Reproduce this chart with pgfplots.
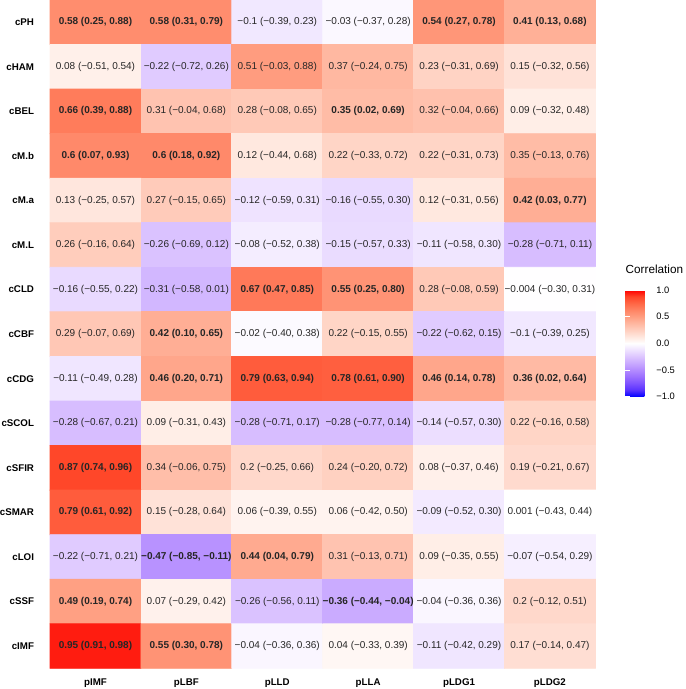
\documentclass[border=0pt]{standalone}
\usepackage{fontspec}
\setmainfont{Liberation Sans}
\usepackage{pgfplots}
\usepackage{pgfplotstable}
\pgfplotsset{compat=1.18}
\protected\def\B#1{{\bfseries #1}}

\pgfplotstableread[col sep=semicolon]{
x;y;c;lab
0;0;0.58;\B{0.58 (0.25, 0.88)}
1;0;0.58;\B{0.58 (0.31, 0.79)}
2;0;-0.1;−0.1 (−0.39, 0.23)
3;0;-0.03;−0.03 (−0.37, 0.28)
4;0;0.54;\B{0.54 (0.27, 0.78)}
5;0;0.41;\B{0.41 (0.13, 0.68)}
0;1;0.08;0.08 (−0.51, 0.54)
1;1;-0.22;−0.22 (−0.72, 0.26)
2;1;0.51;0.51 (−0.03, 0.88)
3;1;0.37;0.37 (−0.24, 0.75)
4;1;0.23;0.23 (−0.31, 0.69)
5;1;0.15;0.15 (−0.32, 0.56)
0;2;0.66;\B{0.66 (0.39, 0.88)}
1;2;0.31;0.31 (−0.04, 0.68)
2;2;0.28;0.28 (−0.08, 0.65)
3;2;0.35;\B{0.35 (0.02, 0.69)}
4;2;0.32;0.32 (−0.04, 0.66)
5;2;0.09;0.09 (−0.32, 0.48)
0;3;0.6;\B{0.6 (0.07, 0.93)}
1;3;0.6;\B{0.6 (0.18, 0.92)}
2;3;0.12;0.12 (−0.44, 0.68)
3;3;0.22;0.22 (−0.33, 0.72)
4;3;0.22;0.22 (−0.31, 0.73)
5;3;0.35;0.35 (−0.13, 0.76)
0;4;0.13;0.13 (−0.25, 0.57)
1;4;0.27;0.27 (−0.15, 0.65)
2;4;-0.12;−0.12 (−0.59, 0.31)
3;4;-0.16;−0.16 (−0.55, 0.30)
4;4;0.12;0.12 (−0.31, 0.56)
5;4;0.42;\B{0.42 (0.03, 0.77)}
0;5;0.26;0.26 (−0.16, 0.64)
1;5;-0.26;−0.26 (−0.69, 0.12)
2;5;-0.08;−0.08 (−0.52, 0.38)
3;5;-0.15;−0.15 (−0.57, 0.33)
4;5;-0.11;−0.11 (−0.58, 0.30)
5;5;-0.28;−0.28 (−0.71, 0.11)
0;6;-0.16;−0.16 (−0.55, 0.22)
1;6;-0.31;−0.31 (−0.58, 0.01)
2;6;0.67;\B{0.67 (0.47, 0.85)}
3;6;0.55;\B{0.55 (0.25, 0.80)}
4;6;0.28;0.28 (−0.08, 0.59)
5;6;-0.004;−0.004 (−0.30, 0.31)
0;7;0.29;0.29 (−0.07, 0.69)
1;7;0.42;\B{0.42 (0.10, 0.65)}
2;7;-0.02;−0.02 (−0.40, 0.38)
3;7;0.22;0.22 (−0.15, 0.55)
4;7;-0.22;−0.22 (−0.62, 0.15)
5;7;-0.1;−0.1 (−0.39, 0.25)
0;8;-0.11;−0.11 (−0.49, 0.28)
1;8;0.46;\B{0.46 (0.20, 0.71)}
2;8;0.79;\B{0.79 (0.63, 0.94)}
3;8;0.78;\B{0.78 (0.61, 0.90)}
4;8;0.46;\B{0.46 (0.14, 0.78)}
5;8;0.36;\B{0.36 (0.02, 0.64)}
0;9;-0.28;−0.28 (−0.67, 0.21)
1;9;0.09;0.09 (−0.31, 0.43)
2;9;-0.28;−0.28 (−0.71, 0.17)
3;9;-0.28;−0.28 (−0.77, 0.14)
4;9;-0.14;−0.14 (−0.57, 0.30)
5;9;0.22;0.22 (−0.16, 0.58)
0;10;0.87;\B{0.87 (0.74, 0.96)}
1;10;0.34;0.34 (−0.06, 0.75)
2;10;0.2;0.2 (−0.25, 0.66)
3;10;0.24;0.24 (−0.20, 0.72)
4;10;0.08;0.08 (−0.37, 0.46)
5;10;0.19;0.19 (−0.21, 0.67)
0;11;0.79;\B{0.79 (0.61, 0.92)}
1;11;0.15;0.15 (−0.28, 0.64)
2;11;0.06;0.06 (−0.39, 0.55)
3;11;0.06;0.06 (−0.42, 0.50)
4;11;-0.09;−0.09 (−0.52, 0.30)
5;11;0.001;0.001 (−0.43, 0.44)
0;12;-0.22;−0.22 (−0.71, 0.21)
1;12;-0.47;\B{−0.47 (−0.85, −0.11)}
2;12;0.44;\B{0.44 (0.04, 0.79)}
3;12;0.31;0.31 (−0.13, 0.71)
4;12;0.09;0.09 (−0.35, 0.55)
5;12;-0.07;−0.07 (−0.54, 0.29)
0;13;0.49;\B{0.49 (0.19, 0.74)}
1;13;0.07;0.07 (−0.29, 0.42)
2;13;-0.26;−0.26 (−0.56, 0.11)
3;13;-0.36;\B{−0.36 (−0.44, −0.04)}
4;13;-0.04;−0.04 (−0.36, 0.36)
5;13;0.2;0.2 (−0.12, 0.51)
0;14;0.95;\B{0.95 (0.91, 0.98)}
1;14;0.55;\B{0.55 (0.30, 0.78)}
2;14;-0.04;−0.04 (−0.36, 0.36)
3;14;0.04;0.04 (−0.33, 0.39)
4;14;-0.11;−0.11 (−0.42, 0.29)
5;14;0.17;0.17 (−0.14, 0.47)
}\corrtab

\begin{document}
\begin{tikzpicture}
\useasboundingbox (-37.5pt,-15.5pt) rectangle (476.25pt,501.2pt);
\begin{axis}[
  scale only axis, width=409pt, height=501.2pt,
  xmin=-0.5, xmax=5.5, ymin=-0.5, ymax=14.5,
  clip=false,
  xtick={0,...,5}, xticklabels={pIMF,pLBF,pLLD,pLLA,pLDG1,pLDG2},
  ytick={0,...,14},
  yticklabels={cPH,cHAM,cBEL,cM.b,cM.a,cM.L,cCLD,cCBF,cCDG,cSCOL,cSFIR,cSMAR,cLOI,cSSF,cIMF},
  major tick length=0pt, tick style={draw=none},
  axis line style={draw=none},
  xticklabel style={font=\fontsize{7.3}{8}\selectfont\bfseries, anchor=north, inner sep=0pt, yshift=-7.5pt},
  yticklabel style={font=\fontsize{7.3}{8}\selectfont\bfseries, anchor=east, inner sep=0pt, xshift=-11.8pt},
  colormap={corr}{rgb255=(0,0,255) rgb255=(89,50,255) rgb255=(126,82,255) rgb255=(155,111,255) rgb255=(179,139,255) rgb255=(200,168,255) rgb255=(220,196,255) rgb255=(238,226,255) rgb255=(255,255,255) rgb255=(255,231,222) rgb255=(255,207,191) rgb255=(255,183,160) rgb255=(255,158,129) rgb255=(255,132,100) rgb255=(255,103,70) rgb255=(255,70,40) rgb255=(255,0,0)},
  point meta min=-1, point meta max=1,
  colorbar,
  colorbar style={
    scale only axis,
    at={(parent axis.south east)}, anchor=south west,
    xshift=14pt, yshift=203.7pt,
    width=18.5pt, height=80pt,
    ytick={-1,-0.5,0,0.5,1},
    yticklabels={−1.0,−0.5,0.0,0.5,1.0},
    yticklabel pos=right,
    yticklabel style={font=\fontsize{7}{8}\selectfont, inner sep=0pt, xshift=4.5pt, anchor=west},
    axis line style={draw=none},
    major tick length=3.5pt, tick align=inside, ytick pos=both,
    tick style={draw=white, line width=0.5pt},
    title={Correlation},
    title style={at={(0,1)}, anchor=south west, inner sep=0pt, yshift=6pt, font=\fontsize{8.8}{10}\selectfont},
  },
]
\addplot[matrix plot, mesh/cols=6, point meta=explicit, faceted color=black!45, line width=0.6pt]
  table[x=x, y=y, meta=c] {\corrtab};
\addplot[only marks, mark=none, point meta=explicit symbolic,
  nodes near coords, nodes near coords align=center,
  every node near coord/.append style={font=\fontsize{7.5}{9}\selectfont, text=black!85, inner sep=0pt}]
  table[x=x, y=y, meta=lab] {\corrtab};
\end{axis}
\end{tikzpicture}
\end{document}
